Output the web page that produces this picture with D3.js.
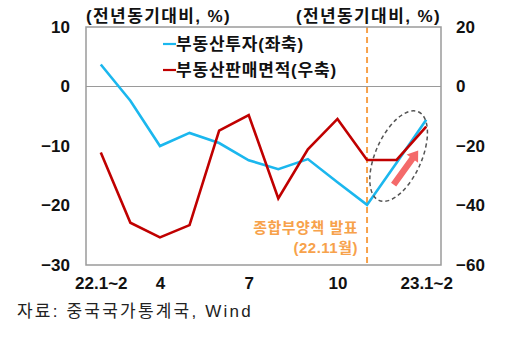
<!DOCTYPE html>
<html>
<head>
<meta charset="utf-8">
<script src="https://cdn.jsdelivr.net/npm/d3@7"></script>
<style>
  html, body { margin: 0; padding: 0; background: #fff; }
  svg { display: block; }
  text { font-family: "Liberation Sans", "Noto Sans CJK KR", sans-serif; }
</style>
</head>
<body>
<svg id="chart" width="512" height="338"></svg>
<script>
// Monthly categories (Jan–Feb combined)
const categories = ["22.1~2", "3", "4", "5", "6", "7", "8", "9", "10", "11", "12", "23.1~2"];
const xTickLabels = ["22.1~2", "4", "7", "10", "23.1~2"];

// Real-estate investment, YoY % (left axis)
const investment = [3.7, -2.4, -10.0, -7.8, -9.5, -12.4, -13.9, -12.2, -16.1, -19.9, -12.8, -5.6];
// Real-estate sales floor area, YoY % (right axis)
const salesArea = [-22.2, -45.8, -50.7, -46.6, -14.8, -9.6, -37.6, -21.1, -10.9, -24.7, -24.7, -13.5];

const leftTicks = [10, 0, -10, -20, -30];
const rightTicks = [20, 0, -20, -40, -60];

const seriesNames = ["부동산투자(좌축)", "부동산판매면적(우축)"];
const axisTitle = "(전년동기대비, %)";
const eventCategory = "11";
const eventLabel = ["종합부양책 발표", "(22.11월)"];
const sourceNote = "자료: 중국국가통계국, Wind";

const colors = { invest: "#1bb7ee", sales: "#c00000", frame: "#9a9a9a", event: "#f7a24b", arrow: "#f46a6a" };

const svg = d3.select("#chart");
const plot = { left: 86, right: 441, top: 27, bottom: 265 };

const x = d3.scalePoint().domain(categories).range([plot.left, plot.right]).padding(0.5);
const yL = d3.scaleLinear().domain([-30, 10]).range([plot.bottom, plot.top]);
const yR = d3.scaleLinear().domain([-60, 20]).range([plot.bottom, plot.top]);

// zero reference line
svg.append("line")
  .attr("x1", plot.left).attr("x2", plot.right)
  .attr("y1", yL(0)).attr("y2", yL(0))
  .attr("stroke", colors.frame).attr("stroke-width", 1.2);

// event marker (vertical dashed line)
svg.append("line")
  .attr("x1", x(eventCategory)).attr("x2", x(eventCategory))
  .attr("y1", plot.top).attr("y2", plot.bottom)
  .attr("stroke", colors.event).attr("stroke-width", 2)
  .attr("stroke-dasharray", "6,4");

// series lines
const lineL = d3.line().x((d, i) => x(categories[i])).y(d => yL(d));
const lineR = d3.line().x((d, i) => x(categories[i])).y(d => yR(d));

svg.append("path").datum(investment)
  .attr("d", lineL).attr("fill", "none")
  .attr("stroke", colors.invest).attr("stroke-width", 2.6).attr("stroke-linejoin", "miter");
svg.append("path").datum(salesArea)
  .attr("d", lineR).attr("fill", "none")
  .attr("stroke", colors.sales).attr("stroke-width", 2.6).attr("stroke-linejoin", "miter");

// frame
svg.append("rect")
  .attr("x", plot.left).attr("y", plot.top)
  .attr("width", plot.right - plot.left).attr("height", plot.bottom - plot.top)
  .attr("fill", "none").attr("stroke", colors.frame).attr("stroke-width", 1.5);

// recovery highlight: dashed ellipse around the last two months
const cx = x("12") + 2;
const cy = yL(-11.7);
svg.append("ellipse")
  .attr("cx", 0).attr("cy", 0).attr("rx", 48.5).attr("ry", 23)
  .attr("transform", `translate(${cx},${cy}) rotate(-66)`)
  .attr("fill", "none").attr("stroke", "#555").attr("stroke-width", 1.5)
  .attr("stroke-dasharray", "4,3");

// upward arrow
const ax0 = x("12") - 3, ay0 = yR(-33), ax1 = x("23.1~2") - 8, ay1 = yR(-21.5);
const ang = Math.atan2(ay1 - ay0, ax1 - ax0) * 180 / Math.PI;
const len = Math.hypot(ax1 - ax0, ay1 - ay0);
const arrow = svg.append("g").attr("transform", `translate(${ax0},${ay0}) rotate(${ang})`);
arrow.append("path")
  .attr("d", `M0,-3.2 L${len - 10},-3.2 L${len - 10},-7 L${len},0 L${len - 10},7 L${len - 10},3.2 L0,3.2 Z`)
  .attr("fill", colors.arrow);

// axes
const axL = svg.append("g").attr("transform", `translate(${plot.left},0)`)
  .call(d3.axisLeft(yL).tickValues(leftTicks).tickSize(0).tickPadding(16));
const axR = svg.append("g").attr("transform", `translate(${plot.right},0)`)
  .call(d3.axisRight(yR).tickValues(rightTicks).tickSize(0).tickPadding(15));
const axB = svg.append("g").attr("transform", `translate(0,${plot.bottom})`)
  .call(d3.axisBottom(x).tickValues(xTickLabels).tickSize(0).tickPadding(12));
[axL, axR, axB].forEach(g => {
  g.select(".domain").remove();
  g.selectAll("text")
    .attr("font-family", "Liberation Sans, Noto Sans CJK KR, sans-serif")
    .attr("font-size", 17).attr("font-weight", "bold").attr("fill", "#111");
});

// axis unit titles
svg.append("text").attr("x", plot.left).attr("y", 22)
  .attr("font-size", 17).attr("font-weight", "bold").attr("fill", "#111")
  .attr("letter-spacing", 1.4)
  .text(axisTitle);
svg.append("text").attr("x", plot.right).attr("y", 22).attr("text-anchor", "end")
  .attr("font-size", 17).attr("font-weight", "bold").attr("fill", "#111")
  .attr("letter-spacing", 1.4)
  .text(axisTitle);

// legend
const legend = svg.append("g");
[[colors.invest, seriesNames[0], 44], [colors.sales, seriesNames[1], 70]].forEach(([c, name, yy]) => {
  legend.append("line").attr("x1", 163).attr("x2", 176).attr("y1", yy).attr("y2", yy)
    .attr("stroke", c).attr("stroke-width", 2.2);
  legend.append("text").attr("x", 176).attr("y", yy).attr("dy", "0.36em")
    .attr("font-size", 17).attr("font-weight", "bold").attr("fill", "#111")
    .attr("letter-spacing", 0.8)
    .text(name);
});

// event annotation
eventLabel.forEach((t, i) => {
  svg.append("text").attr("x", 358).attr("y", 228 + i * 20).attr("dy", "0.36em")
    .attr("text-anchor", "end")
    .attr("font-size", 15).attr("font-weight", "bold").attr("fill", colors.event)
    .attr("letter-spacing", 0.5)
    .text(t);
});

// source
svg.append("text").attr("x", 17).attr("y", 311).attr("dy", "0.36em")
  .attr("font-size", 17).attr("fill", "#222")
  .attr("letter-spacing", 2.2)
  .text(sourceNote);
</script>
</body>
</html>
